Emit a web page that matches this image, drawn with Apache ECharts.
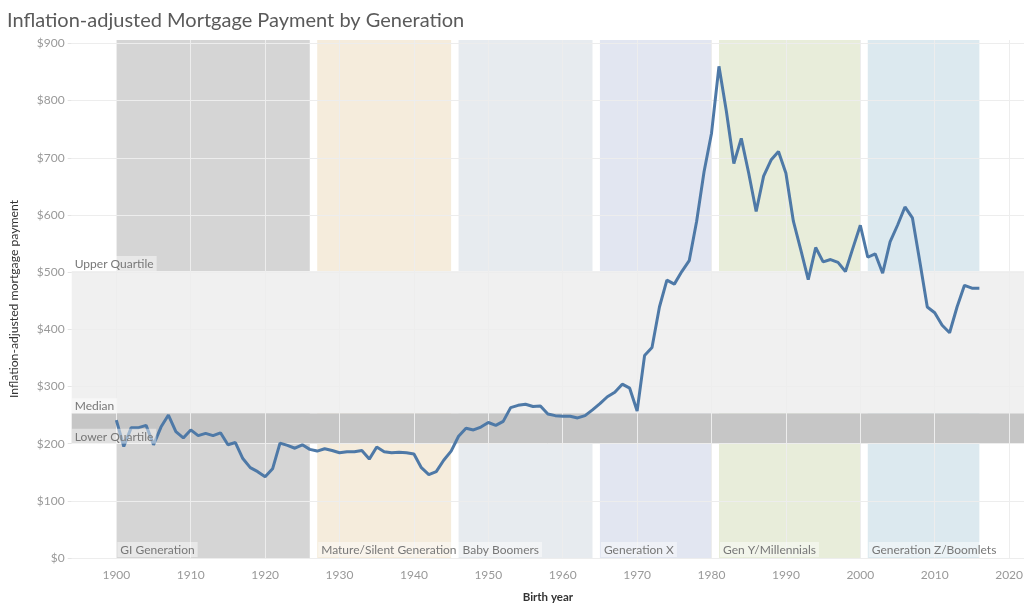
<!DOCTYPE html>
<html>
<head>
<meta charset="utf-8">
<script src="https://cdn.jsdelivr.net/npm/echarts@6.0.0/dist/echarts.min.js"></script>
<style>
html,body{margin:0;padding:0;background:#fff;}
#chart{width:1024px;height:610px;}
</style>
</head>
<body>
<div id="chart"></div>
<script>
const titleText = 'Inflation-adjusted Mortgage Payment by Generation';
const years = [
1900,1901,1902,1903,1904,1905,1906,1907,1908,1909,
1910,1911,1912,1913,1914,1915,1916,1917,1918,1919,
1920,1921,1922,1923,1924,1925,1926,1927,1928,1929,
1930,1931,1932,1933,1934,1935,1936,1937,1938,1939,
1940,1941,1942,1943,1944,1945,1946,1947,1948,1949,
1950,1951,1952,1953,1954,1955,1956,1957,1958,1959,
1960,1961,1962,1963,1964,1965,1966,1967,1968,1969,
1970,1971,1972,1973,1974,1975,1976,1977,1978,1979,
1980,1981,1982,1983,1984,1985,1986,1987,1988,1989,
1990,1991,1992,1993,1994,1995,1996,1997,1998,1999,
2000,2001,2002,2003,2004,2005,2006,2007,2008,2009,
2010,2011,2012,2013,2014,2015,2016];
const payments = [
241,195,228,228,232,198,229,250,221,210,
224,214,218,214,219,198,202,174,158,151,
142,156,201,197,192,198,190,187,191,188,
184,186,186,188,173,194,186,184,185,184,
182,158,146,151,171,187,213,227,224,229,
237,232,239,263,267,269,265,266,252,249,
248,248,245,249,259,270,282,290,304,297,
257,354,368,439,486,479,501,520,589,676,
743,860,781,690,734,673,606,668,696,711,
673,589,539,487,543,518,522,517,501,542,
582,526,532,498,553,582,614,595,518,439,
429,407,394,439,477,472,472];
const genNames = ['GI Generation','Mature/Silent Generation','Baby Boomers','Generation X','Gen Y/Millennials','Generation Z/Boomlets'];
const genStart = [1900,1927,1946,1965,1981,2001];
const genEnd   = [1926,1945,1964,1980,2000,2016];
const quartileNames = ['Upper Quartile','Median','Lower Quartile'];
const quartileValues = [502,253,200];
const yTicks = [0,100,200,300,400,500,600,700,800,900];
const xTicks = [1900,1910,1920,1930,1940,1950,1960,1970,1980,1990,2000,2010,2020];

const genColors = ['#d5d5d5','#f5ecdc','#e7ebef','#e2e6f1','#e8edda','#dce9ef'];
const FONT = 'Lato, "Open Sans", sans-serif';

const chart = echarts.init(document.getElementById('chart'), null, {renderer:'canvas'});
const upper = quartileValues[0], median = quartileValues[1], lower = quartileValues[2];

const boxLabel = {
  show: true, color: '#777', fontFamily: FONT, fontSize: 12,
  backgroundColor: 'rgba(255,255,255,0.45)', padding: [2,3,1,3]
};

const option = {
  animation: false,
  backgroundColor: '#fff',
  title: {
    text: titleText, left: 2, top: 6,
    textStyle: {fontFamily: FONT, fontSize: 20, fontWeight: 'normal', color: '#5a5a5a'}
  },
  grid: {left: 71.7, right: 0, top: 40, bottom: 52, outerBoundsMode: 'none', containLabel: false},
  xAxis: {
    type: 'value', min: 1894, max: 2022, z: 3,
    name: 'Birth year', nameLocation: 'middle', nameGap: 33,
    nameTextStyle: {fontFamily: FONT, fontSize: 11.5, fontWeight: 'bold', color: '#333'},
    axisLine: {show: true, lineStyle: {color: '#ededed'}},
    axisTick: {show: false, customValues: xTicks},
    axisLabel: {customValues: xTicks, color: '#999', fontFamily: FONT, fontSize: 12, margin: 11,
      formatter: v => String(v)},
    splitLine: {show: true, lineStyle: {color: '#ededed', width: 1}}
  },
  yAxis: {
    type: 'value', min: 0, max: 906, z: 3,
    name: 'Inflation-adjusted mortgage payment', nameLocation: 'middle', nameGap: 52,
    nameTextStyle: {fontFamily: FONT, fontSize: 12.2, color: '#333'},
    axisLine: {show: false},
    axisTick: {show: true, length: 4, customValues: yTicks, lineStyle: {color: '#e4e4e4'}},
    axisLabel: {customValues: yTicks, color: '#999', fontFamily: FONT, fontSize: 12, margin: 7,
      formatter: v => '$' + v},
    splitLine: {show: true, lineStyle: {color: '#ededed', width: 1}}
  },
  series: [
    {
      type: 'line', data: [], z: 1, silent: true,
      markArea: {
        z: 1, silent: true,
        label: {show: false},
        data: genNames.map((n, i) => [
          {xAxis: genStart[i], itemStyle: {color: genColors[i], opacity: 1}},
          {xAxis: genEnd[i]}
        ])
      }
    },
    {
      type: 'line', data: [], z: 2, silent: true,
      markArea: {
        z: 2, silent: true,
        label: {show: false},
        data: [
          [{yAxis: lower, itemStyle: {color: '#c6c6c6', opacity: 1}}, {yAxis: median}],
          [{yAxis: median, itemStyle: {color: '#f0f0f0', opacity: 1}}, {yAxis: upper}]
        ]
      }
    },
    {
      type: 'line', data: [], z: 5, silent: true,
      markArea: {
        z: 5, silent: true,
        label: Object.assign({position: 'insideBottomLeft', distance: 1}, boxLabel),
        itemStyle: {color: 'rgba(0,0,0,0)'},
        data: genNames.map((n, i) => [
          {name: n, xAxis: genStart[i]},
          {xAxis: genEnd[i]}
        ])
      },
      markLine: {
        z: 12, silent: true, symbol: 'none',
        lineStyle: {color: 'rgba(0,0,0,0)', width: 0, type: 'solid'},
        label: Object.assign({position: 'insideStartTop', formatter: '{b}', distance: 0}, boxLabel),
        data: quartileNames.map((n, i) => ({name: n, yAxis: quartileValues[i]}))
      }
    },
    {
      type: 'line', z: 10, symbol: 'none', showSymbol: false, silent: true,
      data: years.map((y, i) => [y, payments[i]]),
      lineStyle: {color: '#4e79a7', width: 3},
      itemStyle: {color: '#4e79a7'}
    }
  ]
};
chart.setOption(option);
</script>
</body>
</html>
